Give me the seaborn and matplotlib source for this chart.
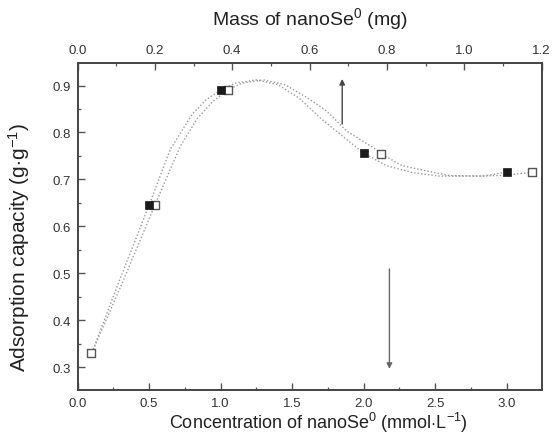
import matplotlib
matplotlib.use("Agg")
import matplotlib.pyplot as plt
import seaborn as sns
import pandas as pd
from matplotlib.ticker import MultipleLocator, FormatStrFormatter

# ---- data ----
# filled squares: concentration axis (bottom)
conc_pts = [0.5, 1.0, 2.0, 3.0]
cap_filled = [0.645, 0.890, 0.756, 0.716]
# open squares: mass axis (top)
mass_pts = [0.035, 0.200, 0.390, 0.785, 1.175]
cap_open = [0.330, 0.645, 0.890, 0.755, 0.716]

# fitted (dotted) curve for the concentration series
conc_curve = [0.11, 0.30, 0.50, 0.65, 0.80, 0.90, 1.00, 1.10, 1.25, 1.40, 1.55, 1.70,
              1.86, 2.00, 2.16, 2.35, 2.53, 2.83, 2.90, 3.00]
cap_curve_c = [0.338, 0.490, 0.645, 0.765, 0.838, 0.870, 0.890, 0.905, 0.912, 0.902, 0.873,
               0.830, 0.790, 0.756, 0.729, 0.714, 0.707, 0.707, 0.710, 0.716]
# fitted (dotted) curve for the mass series
mass_curve = [0.037, 0.111, 0.200, 0.266, 0.310, 0.350, 0.388, 0.425, 0.481, 0.536, 0.592,
              0.644, 0.696, 0.766, 0.784, 0.840, 0.903, 0.962, 1.054, 1.110, 1.176]
cap_curve_m = [0.330, 0.470, 0.645, 0.771, 0.830, 0.866, 0.890, 0.905, 0.912, 0.902, 0.875,
               0.846, 0.803, 0.767, 0.755, 0.729, 0.718, 0.708, 0.707, 0.709, 0.715]

# arrows (x in concentration units, y in capacity)
arrow_up = (1.85, 0.818, 0.914)
arrow_down = (2.18, 0.509, 0.296)

sns.set_theme(style="ticks")
plt.rcParams["font.family"] = ["Liberation Sans", "DejaVu Sans"]
plt.rcParams["mathtext.fontset"] = "custom"
plt.rcParams["mathtext.rm"] = "Liberation Sans"
plt.rcParams["mathtext.it"] = "Liberation Sans"

fig = plt.figure(figsize=(5.53, 4.35), dpi=100)
ax = fig.add_axes([77.5 / 553, 1 - 391 / 435, (541.5 - 77.5) / 553, (391 - 64) / 435])
ax2 = ax.twiny()

curve_color = "#9a9a9a"
df_c = pd.DataFrame({"x": conc_curve, "y": cap_curve_c})
df_m = pd.DataFrame({"x": mass_curve, "y": cap_curve_m})
sns.lineplot(data=df_c, x="x", y="y", ax=ax, color=curve_color, lw=1.0,
             linestyle=(0, (1, 1.5)), sort=False, zorder=2)
sns.lineplot(data=df_m, x="x", y="y", ax=ax2, color=curve_color, lw=1.0,
             linestyle=(0, (1, 1.5)), sort=False, zorder=2)

df_o = pd.DataFrame({"x": mass_pts, "y": cap_open})
sns.scatterplot(data=df_o, x="x", y="y", ax=ax2, marker="s", s=38,
                facecolor="white", edgecolor="#555555", linewidth=1.0, zorder=3)

ax.set_xlim(0, 3.243)
ax.set_ylim(0.251, 0.948)
ax2.set_xlim(0, 1.2)

# filled squares drawn on the top axes (converted) so they sit above the open ones
conv = 1.2 / 3.243
df_f2 = pd.DataFrame({"x": [c * conv for c in conc_pts], "y": cap_filled})
sns.scatterplot(data=df_f2, x="x", y="y", ax=ax2, marker="s", s=38,
                color="#1a1a1a", edgecolor="#1a1a1a", linewidth=0.5, zorder=4)

# arrows
ax.annotate("", xy=(arrow_up[0], arrow_up[2]), xytext=(arrow_up[0], arrow_up[1]),
            arrowprops=dict(arrowstyle="-|>", color="#444444", lw=1.0,
                            mutation_scale=8, shrinkA=0, shrinkB=0))
ax.annotate("", xy=(arrow_down[0], arrow_down[2]), xytext=(arrow_down[0], arrow_down[1]),
            arrowprops=dict(arrowstyle="-|>", color="#666666", lw=1.0,
                            mutation_scale=8, shrinkA=0, shrinkB=0))

spine_c = "#444444"
for a in (ax, ax2):
    for s in a.spines.values():
        s.set_color(spine_c)
        s.set_linewidth(1.2)

ax.xaxis.set_major_locator(MultipleLocator(0.5))
ax.xaxis.set_minor_locator(MultipleLocator(0.25))
ax.yaxis.set_major_locator(MultipleLocator(0.1))
ax.yaxis.set_minor_locator(MultipleLocator(0.05))
ax2.xaxis.set_major_locator(MultipleLocator(0.2))
ax2.xaxis.set_minor_locator(MultipleLocator(0.1))

ax.tick_params(axis="both", which="major", direction="in", length=5, width=1.0,
               color="#555555", labelsize=9.5, labelcolor="#333333", pad=5)
ax.tick_params(axis="both", which="minor", direction="in", length=2.5, width=0.9,
               color="#555555")
ax.tick_params(axis="x", top=False)
ax.tick_params(axis="y", right=False)
ax2.tick_params(axis="x", which="major", direction="in", length=5, width=1.0,
                color="#555555", labelsize=9.5, labelcolor="#333333", pad=5)
ax2.tick_params(axis="x", which="minor", direction="in", length=2.5, width=0.9,
                color="#555555")

ax.xaxis.set_major_formatter(FormatStrFormatter("%.1f"))
ax.yaxis.set_major_formatter(FormatStrFormatter("%.1f"))
ax2.xaxis.set_major_formatter(FormatStrFormatter("%.1f"))

ax.set_xlabel(r"Concentration of nanoSe$^{0}$ (mmol$\cdot$L$^{-1}$)", fontsize=13,
              color="#222222")
ax.xaxis.set_label_coords(0.52, -0.062)
ax.set_ylabel(r"Adsorption capacity (g$\cdot$g$^{-1}$)", fontsize=15,
              color="#222222")
ax.yaxis.set_label_coords(-0.098, 0.44)
ax2.set_xlabel(r"Mass of nanoSe$^{0}$ (mg)", fontsize=14, color="#222222")
ax2.xaxis.set_label_coords(0.50, 1.118)
ax2.set_ylabel("")

fig.savefig("out.png", dpi=100)
